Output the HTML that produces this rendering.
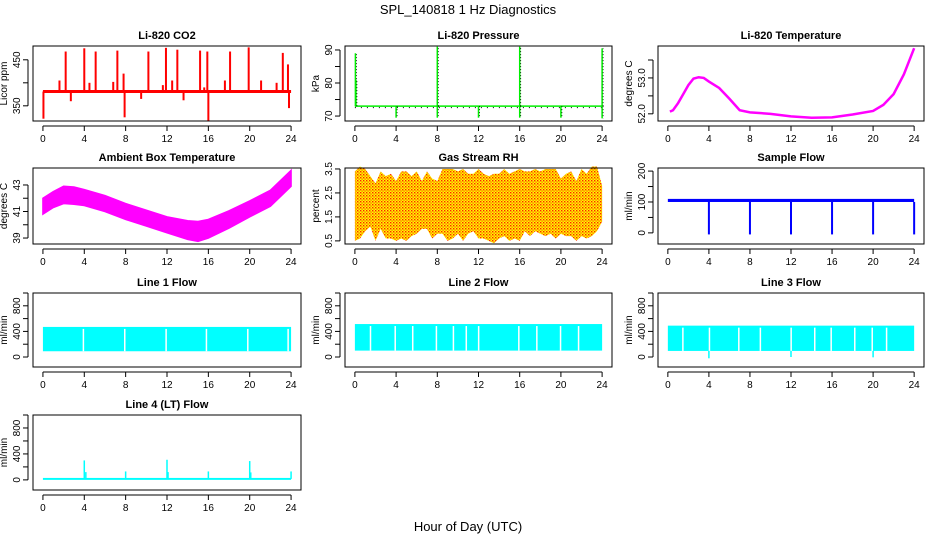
<!DOCTYPE html>
<html><head><meta charset="utf-8">
<style>
html,body{margin:0;padding:0;background:#fff;}
svg{display:block;font-family:"Liberation Sans",Arial,sans-serif;}
</style></head>
<body>
<svg id="chart" width="936" height="540" viewBox="0 0 936 540" xmlns="http://www.w3.org/2000/svg">
<defs>
<pattern id="rhpat" width="3" height="3" patternUnits="userSpaceOnUse">
<rect width="3" height="3" fill="#ffff00"/><rect x="0" y="0" width="1.4" height="1.4" fill="#ff2000"/><rect x="1.5" y="1.5" width="1.2" height="1.2" fill="#ff4000"/>
</pattern>
</defs>
<text x="468" y="14" text-anchor="middle" font-size="13">SPL_140818  1 Hz Diagnostics</text>
<text x="468" y="531" text-anchor="middle" font-size="13">Hour of Day (UTC)</text>
</svg>
<script>
// ---- data arrays ----
const xTicks = [0,4,8,12,16,20,24];
const co2Base = 381;
const co2SpikeHours = [0.05,1.6,2.2,2.7,4.0,4.5,5.1,6.8,7.2,7.8,7.9,9.5,10.2,11.6,11.9,12.5,13.0,13.6,15.2,15.6,15.9,16.0,17.6,18.1,19.9,21.1,22.6,23.2,23.7,23.8];
const co2SpikeVals  = [322,405,468,360,475,400,468,402,470,420,325,365,468,395,476,405,472,362,470,390,468,318,405,468,477,405,400,465,440,345];
const presBase = 73;
const presSpikeHours = [0.05,0.1,4.0,8.0,8.0,12.0,16.0,16.0,20.0,24.0,24.0];
const presSpikeVals  = [89,81,69.5,91,69.5,69.5,91,69.5,69.5,90.5,69.3];
const tempHours = [0.2,0.5,1,1.5,2,2.5,3,3.5,4,5,6,7,8,10,12,14,16,18,20,21,22,23,24];
const tempVals  = [52.06,52.1,52.3,52.55,52.8,52.98,53.02,53.0,52.9,52.72,52.42,52.1,52.04,52.0,51.93,51.89,51.9,51.98,52.08,52.25,52.55,53.1,53.83];
const ambHours = [0,1,2,3,4,6,8,10,12,14,15,16,18,20,22,24];
const ambVals  = [41.4,41.9,42.25,42.2,42.05,41.6,41.0,40.5,40.0,39.6,39.5,39.7,40.4,41.2,42.0,43.5];
const ambHalf  = [0.6,0.6,0.65,0.65,0.6,0.6,0.6,0.6,0.6,0.7,0.75,0.7,0.65,0.6,0.6,0.6];
const rhHours = [0,0.5,1,1.5,2,2.5,3,3.5,4,4.5,5,5.5,6,6.5,7,7.5,8,8.5,9,9.5,10,10.5,11,11.5,12,12.5,13,13.5,14,14.5,15,15.5,16,16.5,17,17.5,18,18.5,19,19.5,20,20.5,21,21.5,22,22.5,23,23.5,24];
const rhMax = [3.4,3.6,3.5,3.2,2.9,3.4,3.2,3.3,3.0,3.4,3.4,3.2,3.4,3.0,3.4,3.1,3.0,3.5,3.5,3.5,3.4,3.5,3.3,3.3,3.5,3.3,3.2,3.3,3.3,3.5,3.3,3.4,3.5,3.4,3.4,3.5,3.4,3.5,3.5,3.5,3.1,3.3,3.4,3.0,3.5,3.3,3.6,3.6,2.8];
const rhMin = [0.5,0.6,0.9,1.1,0.5,1.0,0.6,0.6,0.5,0.6,0.5,0.7,0.8,1.0,1.0,0.6,0.8,0.8,0.5,0.6,0.8,0.5,0.8,0.9,0.6,0.6,0.5,0.4,0.6,0.7,0.5,0.6,0.5,0.9,0.7,0.9,0.8,0.7,0.8,0.6,0.8,0.7,0.7,0.5,0.7,0.6,0.7,0.9,1.3];
const sfLow = 100, sfHigh = 110;
const sfDipHours = [4,8,12,16,20,24];
const sfDipVals  = [-5,-5,-5,-5,-5,-5];
const l1Low = 90, l1High = 470;
const l1Gaps = [3.9,7.9,11.9,15.8,19.8,23.7];
const l2Low = 100, l2High = 515;
const l2Gaps = [1.5,3.9,5.6,7.9,9.55,10.8,12.0,15.9,17.65,19.95,21.7];
const l3Low = 95, l3High = 490;
const l3Gaps = [1.45,4.04,6.9,9.0,12.0,14.3,15.9,18.2,19.9,21.3];
const l3DipHours = [4.0,12.0,20.0];
const l3DipVals  = [-20,0,-5];
const l4Base = 15;
const l4SpikeHours = [4.0,4.15,8.0,12.0,12.1,16.0,20.0,20.1,24.0];
const l4SpikeVals  = [300,120,130,310,120,130,290,115,130];

// ---- helpers ----
const svg = document.getElementById('chart');
const NS = 'http://www.w3.org/2000/svg';
function mk(tag, attrs, parent){
  const e = document.createElementNS(NS, tag);
  for (const k in attrs) e.setAttribute(k, attrs[k]);
  (parent||svg).appendChild(e);
  return e;
}
const cols = [[33,301],[345,612],[658,924]];
const rows = [[46,121],[168,244],[293,367],[415,490]];

function panel(name, col, row, ylim, yTicks, yLabels, ytitle, title){
  const [x0,x1] = cols[col], [y0,y1] = rows[row];
  const g = mk('g', {});
  
  
  const xs = h => x0 + (h + 0.96) / 25.92 * (x1 - x0);
  const ys = v => y1 - (v - ylim[0]) / (ylim[1] - ylim[0]) * (y1 - y0);
  const t = mk('text', {x:(x0+x1)/2, y:y0-7, 'text-anchor':'middle', 'font-size':11, 'font-weight':'bold'}, g);
  t.textContent = title;
  
  
  const plot = mk('g', {}, g);
  
  
  const box = mk('rect', {x:x0, y:y0, width:x1-x0, height:y1-y0, fill:'none', stroke:'#000', 'stroke-width':1}, g);
  
  
  const xa = mk('g', {}, g);
  
  
  mk('line', {x1:xs(0), x2:xs(24), y1:y1+5, y2:y1+5, stroke:'#000'}, xa);
  xTicks.forEach(v => {
    mk('line', {x1:xs(v), x2:xs(v), y1:y1+5, y2:y1+10, stroke:'#000'}, xa);
    const tl = mk('text', {x:xs(v), y:y1+21, 'text-anchor':'middle', 'font-size':10}, xa);
    tl.textContent = v;
    
    
  });
  const ya = mk('g', {}, g);
  
  
  mk('line', {x1:x0-5, x2:x0-5, y1:ys(yTicks[0]), y2:ys(yTicks[yTicks.length-1]), stroke:'#000'}, ya);
  yTicks.forEach((v,i) => {
    mk('line', {x1:x0-10, x2:x0-5, y1:ys(v), y2:ys(v), stroke:'#000'}, ya);
    if (yLabels[i] !== '') {
      const tl = mk('text', {x:0, y:0, 'text-anchor':'middle', 'font-size':10, transform:`translate(${x0-13},${ys(v)}) rotate(-90)`}, ya);
      tl.textContent = yLabels[i];
      
      
    }
  });
  const yt = mk('text', {x:0, y:0, 'text-anchor':'middle', 'font-size':10, transform:`translate(${x0-26},${(y0+y1)/2}) rotate(-90)`}, g);
  yt.textContent = ytitle;
  
  
  return {xs, ys, plot};
}
function band(p, lo, hi, color, gaps){
  mk('rect', {x:p.xs(0), y:p.ys(hi), width:p.xs(24)-p.xs(0), height:p.ys(lo)-p.ys(hi), fill:color}, p.plot);
  (gaps||[]).forEach(h => mk('rect', {x:p.xs(h)-0.6, y:p.ys(hi)+2, width:1.5, height:p.ys(lo)-p.ys(hi)-2, fill:'#fff'}, p.plot));
}
function vline(p, h, a, b, color, w){
  mk('line', {x1:p.xs(h), x2:p.xs(h), y1:p.ys(a), y2:p.ys(b), stroke:color, 'stroke-width':w||1.5}, p.plot);
}

// CO2
let p = panel('co2', 0, 0, [317,480], [350,400,450], ['350','','450'], 'Licor ppm', 'Li-820 CO2');
mk('line', {x1:p.xs(0), x2:p.xs(24), y1:p.ys(co2Base), y2:p.ys(co2Base), stroke:'#ff0000', 'stroke-width':3}, p.plot);
co2SpikeHours.forEach((h,i) => vline(p, h, co2Base, co2SpikeVals[i], '#ff0000', 2));

// Pressure
p = panel('pressure', 1, 0, [68.5,91.2], [70,75,80,85,90], ['70','','80','','90'], 'kPa', 'Li-820 Pressure');
mk('line', {x1:p.xs(0), x2:p.xs(24), y1:p.ys(presBase), y2:p.ys(presBase), stroke:'#00ee00', 'stroke-width':1.5}, p.plot);
mk('line', {x1:p.xs(0), x2:p.xs(24), y1:p.ys(presBase)+1.5, y2:p.ys(presBase)+1.5, stroke:'#000', 'stroke-width':1, 'stroke-dasharray':'1 5'}, p.plot);
presSpikeHours.forEach((h,i) => {
  vline(p, h, presBase, presSpikeVals[i], '#00ee00', 1.5);
  mk('line', {x1:p.xs(h)+1, x2:p.xs(h)+1, y1:p.ys(presBase), y2:p.ys(presSpikeVals[i]), stroke:'#000', 'stroke-width':0.8, 'stroke-dasharray':'1 2'}, p.plot);
});

// Li-820 Temperature
p = panel('li820-temp', 2, 0, [51.8,53.89], [52,52.5,53,53.5], ['52.0','','53.0',''], 'degrees C', 'Li-820 Temperature');
mk('polyline', {points: tempHours.map((h,i)=>p.xs(h)+','+p.ys(tempVals[i])).join(' '), fill:'none', stroke:'#ff00ff', 'stroke-width':2.5}, p.plot);

// Ambient
p = panel('ambient-temp', 0, 1, [38.55,44.28], [39,40,41,42,43], ['39','','41','','43'], 'degrees C', 'Ambient Box Temperature');
{
  const top = ambHours.map((h,i)=>p.xs(h)+','+p.ys(ambVals[i]+ambHalf[i]));
  const bot = ambHours.map((h,i)=>p.xs(h)+','+p.ys(ambVals[i]-ambHalf[i])).reverse();
  mk('polygon', {points: top.concat(bot).join(' '), fill:'#ff00ff', stroke:'#ff00ff', 'stroke-width':1.5}, p.plot);
}

// RH
p = panel('gas-stream-rh', 1, 1, [0.37,3.54], [0.5,1.5,2.5,3.5], ['0.5','1.5','2.5','3.5'], 'percent', 'Gas Stream RH');
{
  const top = rhHours.map((h,i)=>p.xs(h)+','+p.ys(rhMax[i]));
  const bot = rhHours.map((h,i)=>p.xs(h)+','+p.ys(rhMin[i])).reverse();
  mk('polygon', {points: top.concat(bot).join(' '), fill:'url(#rhpat)'}, p.plot);
}

// Sample flow
p = panel('sample-flow', 2, 1, [-36,210], [0,50,100,150,200], ['0','','100','','200'], 'ml/min', 'Sample Flow');
band(p, sfLow, sfHigh, '#0000ff');
sfDipHours.forEach((h,i) => vline(p, h, sfLow, sfDipVals[i], '#0000ff', 2));

// Line flows
const fTicks = [0,200,400,600,800,1000], fLabels = ['0','','400','','800',''];
p = panel('line1-flow', 0, 2, [-156,1000], fTicks, fLabels, 'ml/min', 'Line 1 Flow');
band(p, l1Low, l1High, '#00ffff', l1Gaps);
p = panel('line2-flow', 1, 2, [-156,1000], fTicks, fLabels, 'ml/min', 'Line 2 Flow');
band(p, l2Low, l2High, '#00ffff', l2Gaps);
p = panel('line3-flow', 2, 2, [-156,1000], fTicks, fLabels, 'ml/min', 'Line 3 Flow');
band(p, l3Low, l3High, '#00ffff', l3Gaps);
l3DipHours.forEach((h,i) => vline(p, h, l3Low, l3DipVals[i], '#00ffff', 1.5));
p = panel('line4-flow', 0, 3, [-156,1000], fTicks, fLabels, 'ml/min', 'Line 4 (LT) Flow');
band(p, 0, l4Base+15, '#00ffff');
l4SpikeHours.forEach((h,i) => vline(p, h, l4Base, l4SpikeVals[i], '#00ffff', 1.5));
</script>
</body></html>
